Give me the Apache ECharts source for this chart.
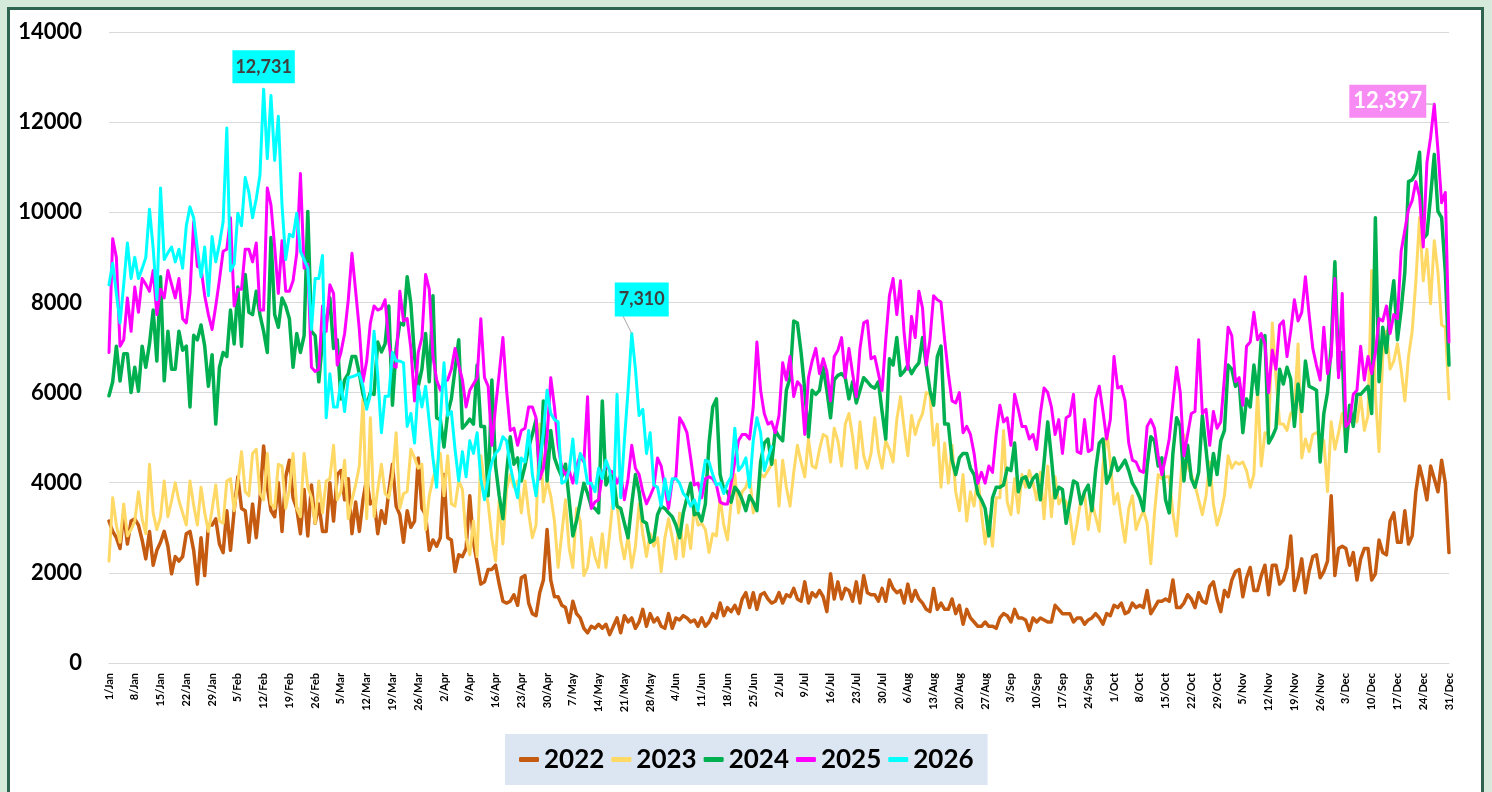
<!DOCTYPE html>
<html>
<head>
<meta charset="utf-8">
<script src="https://cdn.jsdelivr.net/npm/echarts@6/dist/echarts.min.js"></script>
<style>
html, body { margin: 0; padding: 0; width: 1492px; height: 792px; overflow: hidden; background: #d5eadb; }
#frame { position: absolute; left: 7px; top: 7px; width: 1471px; height: 800px; background: #fff;
         border: 3px solid #2f6450; border-bottom: none; }
#chart { position: absolute; left: 0; top: 0; width: 1492px; height: 792px; }
</style>
</head>
<body>
<div id="frame"></div>
<div id="chart"></div>
<script>
const months = ['Jan', 'Feb', 'Mar', 'Apr', 'May', 'Jun', 'Jul', 'Aug', 'Sep', 'Oct', 'Nov', 'Dec'];
const monthDays = [31, 28, 31, 30, 31, 30, 31, 31, 30, 31, 30, 31];
const years = ['2022', '2023', '2024', '2025', '2026'];
const colors = ['#c55a11', '#ffd966', '#00b050', '#ff00ff', '#00ffff'];

// one row per week, starting 1/Jan
const s2022 = [
  3150,2920,2780,2540,3330,2640,3150, 3200,3060,2730,2310,2920,2170,2500,
  2680,2920,2590,1980,2360,2260,2360, 2870,2920,2500,1750,2780,1940,3060,
  3060,3200,2640,2450,3380,2500,3380, 4130,3430,3380,2680,3530,2780,3620,
  4815,3900,3380,3245,4000,2920,4130, 4500,3665,3430,2870,3850,2820,3950,
  3100,3530,2920,2920,4000,3150,4180, 4270,3620,4090,2870,3570,2920,3620,
  4090,3530,3620,2870,3380,3100,3800, 4410,3480,3290,2680,3380,3010,3150,
  4550,3430,3290,2500,2730,2590,2780, 4180,2780,2730,2030,2400,2360,2540,
  3710,2680,2220,1750,1800,2075,2075, 2170,1750,1370,1330,1370,1515,1280,
  1890,1940,1330,1095,1050,1560,1840, 2960,1840,1470,1470,1280,1230,900,
  1370,1095,1000,770,670,815,770, 860,770,860,630,815,1000,670,
  1050,910,1000,770,910,1190,815, 1095,910,1000,815,770,1095,770,
  1000,955,1050,1000,910,955,815, 1000,815,910,1095,1000,1330,1050,
  1230,1140,1280,1095,1420,1560,1230, 1560,1190,1515,1560,1420,1330,1370,
  1560,1330,1515,1470,1655,1420,1370, 1800,1330,1560,1470,1610,1470,1140,
  1980,1420,1800,1420,1655,1610,1370, 1800,1330,1940,1560,1515,1515,1370,
  1655,1370,1840,1655,1560,1610,1330, 1750,1370,1610,1420,1330,1190,1140,
  1655,1190,1330,1190,1190,1420,1095, 1280,860,1190,1000,910,815,815,
  910,815,815,770,1000,1095,1050, 910,1190,1000,1000,955,720,1000,
  910,1000,955,910,910,1280,1190, 1095,1095,1095,910,1000,1000,860,
  955,1000,1095,1000,860,1095,1050, 1280,1230,1330,1095,1140,1330,1230,
  1280,1230,1610,1095,1230,1370,1370, 1420,1370,1840,1230,1230,1330,1515,
  1420,1230,1560,1370,1330,1700,1800, 1420,1140,1610,1470,1840,2030,2075,
  1470,1890,2120,1610,1610,1940,2170, 1515,2170,2170,1750,1840,2120,2820,
  1610,1890,2310,1560,2030,2360,2400, 1890,2030,2260,3710,1940,2540,2590,
  2540,2170,2450,1840,2310,2540,2540, 1840,1980,2730,2450,2400,3150,3330,
  2680,2680,3380,2640,2820,3800,4370, 4040,3620,4370,4090,3800,4500,3990,
  2450
];

const s2023 = [
  2260,3665,3060,2680,3530,2820,2960, 3150,3800,3200,2870,4410,3330,2960,
  3245,4040,3245,3600,4000,3600,3330, 3060,4040,3500,3060,3900,3330,2920,
  3400,3950,3150,3100,4040,4090,3380, 4000,4690,3800,3710,4650,4740,3760,
  3620,4650,3530,3430,4410,4370,3430, 3850,4650,3430,3245,4650,3900,3665,
  3100,4040,3330,4040,4090,4830,3620, 3800,4500,3200,3620,3950,4370,5860,
  3200,5440,3245,3850,4410,3760,3665, 4130,5110,3430,3760,3800,4740,4550,
  4320,4410,2960,3710,4090,4370,4650, 3710,4600,3530,3480,4040,3850,2780,
  2400,3150,2360,4600,3990,3530,2780, 2260,3620,2640,3850,4180,3900,4040,
  3330,4040,3330,2780,3060,5300,3570, 4040,3710,3150,2120,2870,3620,2540,
  2120,3430,3150,1940,2120,2780,2360, 2120,2870,2120,2870,3710,3530,2730,
  2310,2820,2120,2590,3530,2870,2360, 2870,2590,2780,2030,2780,3200,2780,
  2310,3330,2360,3060,2540,3480,3060, 3100,2960,2450,2870,2820,3665,3060,
  2730,3570,4180,3330,3800,3900,4180, 3330,3530,4180,4130,4270,4410,4500,
  3480,4500,3900,3480,4230,4830,4460, 4130,4970,4370,4320,4740,5070,5020,
  4460,5210,4930,4370,5300,5535,5020, 4320,5350,4600,4320,4650,5440,4690,
  4320,4930,4740,4460,5400,5910,5210, 4600,5490,5070,5350,5535,6000,5960,
  4830,5300,3900,4880,3990,4830,3800, 3380,4180,3150,3800,3480,4180,3330,
  2640,3245,2590,3665,3665,5160,3570, 3290,4090,3330,4180,3900,4270,3990,
  3620,4230,3200,4370,3245,4130,3530, 3665,3570,3290,2640,3100,3620,3760,
  2960,3570,3245,2920,4370,5160,4460, 3530,3760,3200,2680,3430,3710,2960,
  3200,3380,3100,2200,3330,4180,4090, 4130,4130,3330,2820,3900,5070,4370,
  4180,3950,3620,3290,3710,4460,3530, 3060,3330,3710,4600,4320,4460,4410,
  4460,4270,3900,4180,6050,4370,5110, 5070,7545,6330,5300,5300,5160,5535,
  5630,7080,4550,4970,4690,5070,5110, 5020,4930,3800,5350,4740,5110,5535,
  4930,5490,5535,5350,5910,5160,5490, 8710,5960,4690,6800,7360,6520,6700,
  7080,6520,5815,6800,7360,8480,9880, 8480,9180,7970,9370,8670,7500,7450,
  5860
];

const s2024 = [
  5930,6240,7030,6255,6860,6860,6000, 6560,6030,7030,6560,7080,7830,6700,
  8570,6260,7360,6520,6520,7360,6940, 7030,5680,7270,7170,7500,7030,6140,
  6840,5300,6560,6890,6800,7830,7080, 8340,7030,8620,7780,7730,8250,7730,
  7360,6890,9440,7730,7450,8100,7920, 7640,6560,7310,6890,7265,10020,7360,
  7265,6240,7170,7545,8100,6980,7170, 5860,6280,6420,6800,6800,6420,5960,
  5720,6000,5960,7120,6900,7080,7920, 5720,6980,7545,7500,8570,7970,6800,
  6140,6520,7310,6240,8150,5440,5400, 4790,5535,5860,6520,7170,5210,5300,
  5410,5300,6610,5250,5250,3710,6280, 4370,3710,3200,4230,5020,4410,4550,
  4040,4370,4790,5070,5400,4090,5815, 4040,5160,4550,4320,4130,4410,3620,
  2820,3150,3570,3990,3760,3480,3430, 3330,5815,3950,4130,4180,3480,3430,
  3100,2780,3530,4180,3800,3150,3100, 2680,2730,3290,3480,3430,3330,3245,
  3060,2780,3330,3665,3990,3290,3330, 3150,3530,4880,5680,5860,4180,3850,
  3800,3570,3900,3800,3620,3380,3710, 3570,3380,4460,4880,4970,4410,5160,
  5020,4930,6050,6330,7590,7545,6890, 6050,5020,6050,5960,6050,6560,6050,
  5440,6280,6380,6420,6330,5860,6240, 5770,6050,6330,6240,6140,6100,6240,
  5580,4970,6750,6610,7220,6380,6470, 6610,6420,6560,6660,7220,6610,6050,
  5720,6800,7030,5300,5300,4500,4180, 4550,4650,4650,4320,4180,3760,3620,
  3430,2820,3665,3900,3900,3950,4320, 4270,4880,3800,4090,4130,3900,4090,
  4180,3620,4460,5350,4550,3665,3900, 3850,3100,3570,4040,3990,3530,3800,
  3950,3380,4270,4880,4970,3990,4180, 4550,4270,4370,4500,4270,3990,3850,
  3665,3380,4370,5020,4930,4370,4550, 3620,3330,4650,5440,5250,4040,4830,
  4090,3900,4230,5490,4740,3950,4650, 4180,4930,5160,6610,6520,6140,6240,
  5110,5860,5680,6610,5960,7170,7265, 4880,5020,5210,6520,6190,6560,6300,
  5250,6190,5580,6700,6140,6100,6050, 4460,5535,6000,7030,8900,6470,6890,
  4690,5720,5250,5960,5960,6050,6140, 5535,9880,6240,7450,6890,7830,8480,
  7170,7830,8670,10680,10720,10860,11330, 9415,9510,10350,11285,10020,9880,8670,
  6610
];

const s2025 = [
  6890,9415,9000,7030,7170,8100,7360, 8340,7780,8530,8400,8250,8710,7730,
  8290,8100,8710,8400,8100,8530,7640, 7545,8200,9790,8800,8760,8150,7730,
  7400,7920,8500,9135,9180,9880,7920, 8290,8290,9180,9180,8900,9320,7830,
  7830,10540,10160,9230,8200,9370,8250, 8250,8480,9090,10860,8760,8850,6560,
  6470,6520,7920,7360,8390,8200,6610, 6890,7310,8060,9090,8250,7400,6240,
  6700,7545,7920,7830,7870,8060,7120, 6610,6560,8250,7590,7640,6980,5815,
  6890,7220,8620,8290,6800,6280,6050, 6240,6280,6520,6980,6610,6280,5680,
  6050,6190,6330,7640,6330,6140,4830, 5680,6420,7220,6050,5160,5210,4830,
  5160,5210,5680,5680,5440,4090,4320, 5020,6330,5680,4830,4320,4180,4270,
  3990,4370,4600,4460,5910,3430,3570, 3620,4180,4410,4270,4230,3990,4180,
  3620,4090,4830,4320,4180,3800,3530, 3710,3900,4550,4370,3900,3430,4040,
  4130,5440,5300,5110,4550,3950,3990, 3665,4090,4130,4090,3950,3570,3530,
  3530,3990,4460,4930,5070,5070,4970, 5680,7120,6050,5535,5300,5350,5110,
  5490,6660,6280,6800,5910,6240,6140, 5070,6330,6700,6980,6420,6750,6470,
  5815,6800,6940,7220,6330,6980,6420, 5910,6980,7545,7590,6750,6800,6420,
  6050,7170,8150,8530,7730,8480,7310, 6520,7690,7220,8250,7870,6610,7170,
  8150,8060,8010,7170,6420,5815,5770, 6000,5110,5250,5070,4650,3990,4230,
  3990,4370,4230,5070,5720,5350,5440, 4830,5960,5630,5250,5250,4970,5070,
  4740,5535,6100,6000,5680,5070,5400, 4650,5440,5490,5960,4690,4650,5400,
  4690,4740,5860,6140,5580,4970,5400, 6800,6100,6140,5815,4880,4500,4460,
  4270,4230,5250,5400,5210,4600,4180, 4550,4970,5770,6560,6000,4600,5070,
  5535,5580,7170,5535,5630,4830,5580, 5210,5350,6330,7450,7265,6240,6330,
  5720,7030,7120,7780,7170,7310,7080, 6000,6940,6520,7500,7590,6800,7360,
  8060,7590,7780,8570,7730,6980,6610, 6280,7450,6420,6800,8530,6330,8200,
  5250,5350,5960,6050,7030,6280,6800, 6420,6890,7640,7590,7920,7310,7730,
  7640,9135,9600,10070,10260,10680,10350, 9230,11100,11660,12397,11380,10210,10440,
  7120
];

// 2026 runs to 30/Jun
const s2026 = [
  8390,8870,8200,7545,8400,9320,8530, 9000,8530,8750,9000,10070,9200,8060,
  10540,8950,9100,9230,8900,9180,8760, 9700,10120,9880,9200,8570,9230,8150,
  9460,8900,9300,9790,11870,8700,8850, 9980,9700,10770,10440,9880,10300,10820,
  12731,11190,12590,11150,12130,10160,8950, 9510,9460,9980,9135,8950,8760,7400,
  8530,8530,9040,5440,6420,5680,5680, 6240,5580,6330,6350,6380,6420,6140,
  5630,5960,7360,6380,5110,5920,5920, 6890,6700,6700,6660,5250,5535,4880,
  6140,5680,6140,5350,4550,3900,5400, 6660,5490,5580,4740,4040,4690,4130,
  4930,4650,5110,4090,3620,4090,4460, 4650,4740,5020,4930,4370,3990,3665,
  4550,4460,5160,4180,3710,4460,5110, 6050,5535,5400,5350,3990,4040,4270,
  4970,3990,4650,4500,3990,3990,3800, 4320,4090,4500,4270,3430,5960,3665,
  4930,6050,7310,6520,5490,5630,4650, 5110,3950,3900,3480,4090,3620,4090,
  4090,3990,3760,3665,3480,3620,3380, 3990,4500,4460,4180,3950,3990,3760,
  3990,4130,5210,4270,4370,4550,3900, 4930,5440,5110,4270,4550,4800
];

const seriesValues = [s2022, s2023, s2024, s2025, s2026];
const lineWidths = [3.5, 3, 3.5, 3, 3];

const days = [];
months.forEach((m, i) => {
  for (let d = 1; d <= monthDays[i]; d++) days.push(d + '/' + m);
});

const FONT = "Lato, 'Open Sans', sans-serif";
const fmt = p => p.value.toLocaleString('en-US');

// callouts: [series index, day index, label style]
const callouts = [
  [4, 42, { position: 'top', distance: 6, backgroundColor: '#00ffff', color: '#404040', fontSize: 18, lineHeight: 25, padding: [4, 3, 4, 3] }],
  [4, 142, { position: 'top', distance: 5, backgroundColor: '#00ffff', color: '#404040', fontSize: 18, lineHeight: 26, padding: [4, 4, 4, 4] }],
  [3, 360, { position: 'left', distance: 8, backgroundColor: '#f78bf3', color: '#ffffff', fontSize: 22, lineHeight: 29, padding: [2, 4, 2, 4] }]
];
const shifts = { '4-142': { dx: 10, dy: -12 }, '3-360': { dy: -3 } };

const series = years.map((name, si) => ({
  name: name,
  type: 'line',
  data: seriesValues[si].map((v, i) => {
    const c = callouts.find(c => c[0] === si && c[1] === i);
    if (!c) return v;
    return {
      value: v,
      label: Object.assign({ show: true, formatter: fmt, fontWeight: 'bold', fontFamily: FONT }, c[2]),
      labelLine: { show: !!shifts[si + '-' + i], lineStyle: { color: '#a6a6a6', width: 1 } }
    };
  }),
  symbol: 'circle',
  symbolSize: 0,
  showSymbol: true,
  showAllSymbol: true,
  smooth: false,
  lineStyle: { color: colors[si], width: lineWidths[si], join: 'round', cap: 'round' },
  itemStyle: { color: colors[si] },
  label: { show: false },
  labelLayout: params => shifts[si + '-' + params.dataIndex] || {},
  emphasis: { disabled: true },
  z: 2 + si
}));

const chart = echarts.init(document.getElementById('chart'));
chart.setOption({
  animation: false,
  backgroundColor: 'transparent',
  grid: { left: 109, right: 43, top: 32, bottom: 129 },
  xAxis: {
    type: 'category',
    data: days,
    boundaryGap: false,
    axisLine: { show: true, lineStyle: { color: '#d9d9d9', width: 1 } },
    axisTick: { show: false },
    axisLabel: {
      interval: 6, rotate: 90, margin: 10,
      color: '#000', fontWeight: 'bold', fontSize: 11, fontFamily: FONT
    },
    splitLine: { show: false }
  },
  yAxis: {
    type: 'value',
    min: 0, max: 14000, interval: 2000,
    axisLine: { show: false },
    axisTick: { show: false },
    axisLabel: {
      margin: 27, color: '#000', fontWeight: 'bold', fontSize: 22, fontFamily: FONT,
      formatter: v => String(v)
    },
    splitLine: { lineStyle: { color: '#d9d9d9', width: 1 } }
  },
  legend: {
    data: years,
    left: 505, top: 734,
    backgroundColor: '#dce6f2',
    padding: [10, 14, 10, 14],
    icon: 'roundRect',
    itemWidth: 20, itemHeight: 5, itemGap: 7,
    textStyle: { fontSize: 26, lineHeight: 31, fontWeight: 'bold', color: '#000', fontFamily: FONT }
  },
  series: series
});
</script>
</body>
</html>
